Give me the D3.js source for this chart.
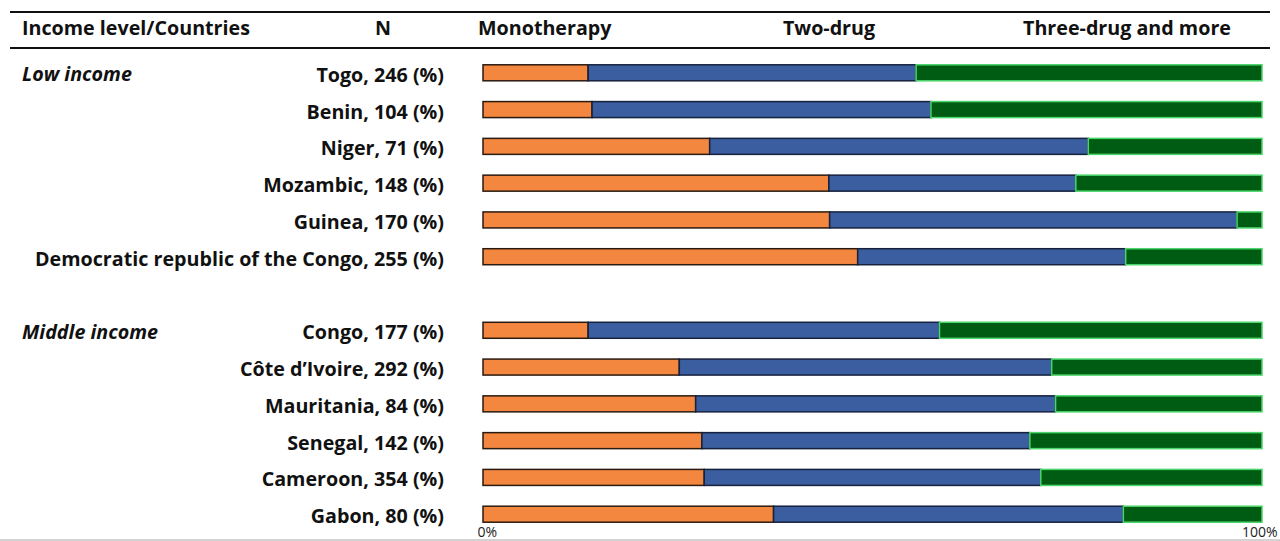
<!DOCTYPE html>
<meta charset="utf-8">
<script src="https://cdn.jsdelivr.net/npm/d3@7"></script>
<style>
  body { margin: 0; background: #fff; }
  text { font-family: "Open Sans", Lato, sans-serif; font-weight: bold; fill: #111; }
</style>
<body>
<script>

// data (percent of patients per regimen)
var countries = ["Togo, 246 (%)", "Benin, 104 (%)", "Niger, 71 (%)", "Mozambic, 148 (%)", "Guinea, 170 (%)",
  "Democratic republic of the Congo, 255 (%)", "",
  "Congo, 177 (%)", "Côte d’Ivoire, 292 (%)", "Mauritania, 84 (%)", "Senegal, 142 (%)", "Cameroon, 354 (%)", "Gabon, 80 (%)"];
var monotherapy = [13.5, 14.0, 29.1, 44.4, 44.5, 48.1, null, 13.5, 25.2, 27.3, 28.1, 28.4, 37.3];
var twoDrug     = [42.1, 43.5, 48.6, 31.7, 52.3, 34.4, null, 45.1, 47.8, 46.2, 42.1, 43.2, 44.9];
var threeDrug   = [44.4, 42.5, 22.3, 23.9, 3.2, 17.5, null, 41.4, 27.0, 26.5, 29.8, 28.4, 17.8];
var groups = [{label: "Low income", row: "Togo, 246 (%)"}, {label: "Middle income", row: "Congo, 177 (%)"}];
var headers = ["Income level/Countries", "N", "Monotherapy", "Two-drug", "Three-drug and more"];
var keys = ["mono", "two", "three"];
var fills = {mono: "#F3873F", two: "#3A5E9F", three: "#005C12"};
var strokes = {mono: "#2a1a10", two: "#16213d", three: "#49d66a"};

var width = 1280, height = 541;
var svg = d3.select("body").append("svg")
    .attr("width", width)
    .attr("height", height);

var rows = countries.map(function(c, i) {
  return {name: c, mono: monotherapy[i], two: twoDrug[i], three: threeDrug[i]};
});
var data = rows.filter(function(d) { return d.name !== ""; });

var x = d3.scaleLinear().domain([0, 100]).range([483, 1262]);
var y = d3.scaleBand().domain(rows.map(function(d, i) { return d.name || "gap" + i; }))
    .range([54.5, 532.5]).paddingInner(0.565).paddingOuter(0.28);

// header rules
svg.append("line").attr("x1", 10).attr("x2", 1270).attr("y1", 12).attr("y2", 12)
   .attr("stroke", "#111").attr("stroke-width", 2.2);
svg.append("line").attr("x1", 10).attr("x2", 1270).attr("y1", 48).attr("y2", 48)
   .attr("stroke", "#111").attr("stroke-width", 2);
svg.append("line").attr("x1", 0).attr("x2", 1280).attr("y1", 540).attr("y2", 540)
   .attr("stroke", "#c4c4c4").attr("stroke-width", 1.5);

// header text
var hx = [{x: 22, a: "start"}, {x: 383, a: "middle"}, {x: 478, a: "start"}, {x: 829, a: "middle"}, {x: 1127, a: "middle"}];
svg.selectAll(".hdr").data(headers).enter().append("text")
   .attr("class", "hdr")
   .attr("x", function(d, i) { return hx[i].x; })
   .attr("y", 35)
   .attr("text-anchor", function(d, i) { return hx[i].a; })
   .style("font-size", "19.7px")
   .text(function(d) { return d; });

// stacked bars
var stack = d3.stack().keys(keys);
var series = stack(data);

svg.append("g").selectAll("g").data(series).enter().append("g")
   .attr("fill", function(d) { return fills[d.key]; })
   .attr("stroke", function(d) { return strokes[d.key]; })
   .attr("stroke-width", 1.5)
   .selectAll("rect").data(function(d) { return d; }).enter().append("rect")
   .attr("x", function(d) { return x(d[0]); })
   .attr("width", function(d) { return x(d[1]) - x(d[0]); })
   .attr("y", function(d) { return y(d.data.name); })
   .attr("height", y.bandwidth());

// country labels
svg.selectAll(".lbl").data(data).enter().append("text")
   .attr("class", "lbl")
   .attr("x", 444)
   .attr("y", function(d) { return y(d.name) + y.bandwidth() / 2 + 9; })
   .attr("text-anchor", "end")
   .style("font-size", "19.7px")
   .text(function(d) { return d.name; });

// income group labels
svg.selectAll(".grp").data(groups).enter().append("text")
   .attr("class", "grp")
   .attr("x", 22)
   .attr("y", function(d) { return y(d.row) + y.bandwidth() / 2 + 8.5; })
   .style("font-size", "19.7px")
   .style("font-style", "italic")
   .text(function(d) { return d.label; });

// axis ticks 0% / 100%
var axis = d3.axisBottom(x).tickValues([0, 100]).tickSize(0)
    .tickFormat(function(d) { return d + "%"; });
var ax = svg.append("g").attr("transform", "translate(0,524)").call(axis);
ax.select(".domain").remove();
ax.selectAll("text").style("font-size", "14px").style("font-weight", "normal")
  .attr("font-family", null).style("fill", "#222")
  .attr("text-anchor", function(d) { return d === 0 ? "start" : "end"; })
  .attr("dx", function(d) { return d === 0 ? -6 : 15; });

</script>
</body>
